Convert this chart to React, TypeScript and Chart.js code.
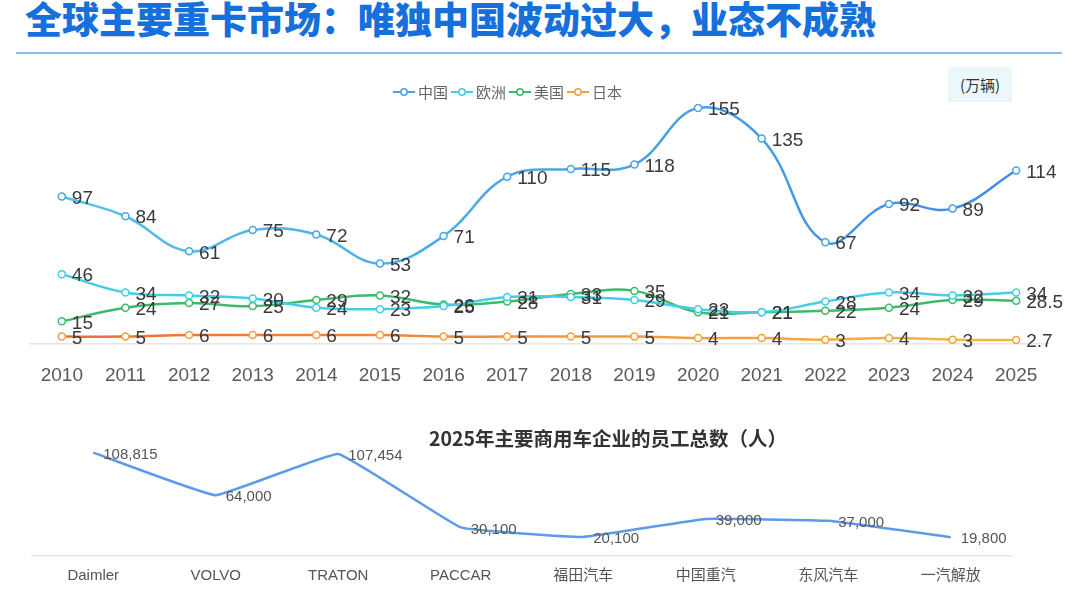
import { useEffect, useRef } from 'react'
import Chart from 'chart.js/auto'

const years = ['2010', '2011', '2012', '2013', '2014', '2015', '2016', '2017', '2018', '2019', '2020', '2021', '2022', '2023', '2024', '2025']
const china = [97, 84, 61, 75, 72, 53, 71, 110, 115, 118, 155, 135, 67, 92, 89, 114]
const europe = [46, 34, 32, 30, 24, 23, 25, 31, 31, 29, 23, 21, 28, 34, 32, 34]
const usa = [15, 24, 27, 25, 29, 32, 26, 28, 33, 35, 21, 21, 22, 24, 29, 28.5]
const japan = [5, 5, 6, 6, 6, 6, 5, 5, 5, 5, 4, 4, 3, 4, 3, 2.7]

const companies = ['Daimler', 'VOLVO', 'TRATON', 'PACCAR', '福田汽车', '中国重汽', '东风汽车', '一汽解放']
const employees = [108815, 64000, 107454, 30100, 20100, 39000, 37000, 19800]

const FONT = '"Liberation Sans", Arial, "Noto Sans CJK SC", sans-serif'

const legendItems = [
  { name: '中国', color: '#4aa3e2' },
  { name: '欧洲', color: '#45cde6' },
  { name: '美国', color: '#3dba6b' },
  { name: '日本', color: '#f3a03c' },
]

// draws each value just right of its point
const valueLabels = (font: string, color: string, fmt: (v: number) => string) => ({
  id: 'valueLabels',
  afterDatasetsDraw(chart: any) {
    const ctx = chart.ctx
    ctx.save()
    ctx.font = font
    ctx.fillStyle = color
    ctx.textAlign = 'left'
    ctx.textBaseline = 'middle'
    chart.data.datasets.forEach((ds: any, i: number) => {
      chart.getDatasetMeta(i).data.forEach((pt: any, j: number) => {
        ctx.fillText(fmt(ds.data[j]), pt.x + 10, pt.y + 2)
      })
    })
    ctx.restore()
  },
})

const gradient = (from: string, to: string) => (c: any) => {
  const area = c.chart.chartArea
  if (!area) return from
  const g = c.chart.ctx.createLinearGradient(area.left, 0, area.right, 0)
  g.addColorStop(0, from)
  g.addColorStop(1, to)
  return g
}

const lineSet = (label: string, data: number[], color: any, pointColor: string) => ({
  label,
  data,
  borderColor: color,
  borderWidth: 2.5,
  tension: 0.4,
  pointRadius: 3.5,
  pointBorderWidth: 1.5,
  pointBorderColor: pointColor,
  pointBackgroundColor: '#ffffff',
})

const MarketChart = () => {
  const chartRef = useRef<any>(null)

  useEffect(() => {
    const chart = new Chart(chartRef.current.getContext('2d'), {
      type: 'line',
      data: {
        labels: years,
        datasets: [
          lineSet('中国', china, gradient('#55c4ea', '#3f8be0'), '#4aa3e2'),
          lineSet('欧洲', europe, '#45cde6', '#45cde6'),
          lineSet('美国', usa, '#3dba6b', '#3dba6b'),
          lineSet('日本', japan, gradient('#ee6a3a', '#f6bb42'), '#f3a03c'),
        ],
      },
      options: {
        animation: false,
        responsive: true,
        maintainAspectRatio: false,
        layout: { padding: { left: 30, right: 32, top: 10, bottom: 13 } },
        plugins: { legend: { display: false }, tooltip: { enabled: false } },
        scales: {
          x: {
            offset: true,
            grid: { display: false, drawTicks: false },
            border: { color: '#e4e6ea', width: 1.5 },
            ticks: { color: '#5a5a5a', padding: 20, font: { size: 19, family: FONT } },
          },
          y: { display: false, min: 0, max: 180 },
        },
      },
      plugins: [valueLabels(`19px ${FONT}`, '#3a3a3a', (v) => String(v))],
    })
    return () => chart.destroy()
  }, [])

  return (
    <div style={{ position: 'absolute', left: 0, top: 60, width: 1080, height: 360 }}>
      <canvas ref={chartRef}></canvas>
    </div>
  )
}

const StaffChart = () => {
  const chartRef = useRef<any>(null)

  useEffect(() => {
    const chart = new Chart(chartRef.current.getContext('2d'), {
      type: 'line',
      data: {
        labels: companies,
        datasets: [{
          label: '员工总数',
          data: employees,
          borderColor: '#5b9be8',
          borderWidth: 2.5,
          tension: 0.08,
          pointRadius: 0,
        }],
      },
      options: {
        animation: false,
        responsive: true,
        maintainAspectRatio: false,
        layout: { padding: { left: 32, right: 68, top: 12, bottom: 0 } },
        plugins: { legend: { display: false }, tooltip: { enabled: false } },
        scales: {
          x: {
            offset: true,
            grid: { display: false, drawTicks: false },
            border: { color: '#e4e6ea', width: 1.5 },
            ticks: { color: '#555555', padding: 11, font: { size: 15, family: FONT } },
          },
          y: { display: false, min: 0, max: 120000 },
        },
      },
      plugins: [valueLabels(`15px ${FONT}`, '#555555', (v) => v.toLocaleString('en-US'))],
    })
    return () => chart.destroy()
  }, [])

  return (
    <div style={{ position: 'absolute', left: 0, top: 430, width: 1080, height: 166 }}>
      <canvas ref={chartRef}></canvas>
    </div>
  )
}

const App = () => {
  return (
    <div style={{ position: 'relative', width: 1080, height: 596, background: '#ffffff', overflow: 'hidden', fontFamily: FONT }}>
      <style>{'body{margin:0}'}</style>
      <div style={{ position: 'absolute', left: 25, top: -9, fontFamily: '"Noto Sans CJK SC", sans-serif', fontWeight: 900, fontSize: 37, color: '#1670dc', whiteSpace: 'nowrap' }}>
        全球主要重卡市场：唯独中国波动过大，业态不成熟
      </div>
      <div style={{ position: 'absolute', left: 16, top: 52, width: 1046, height: 2, background: '#8dbaf0' }}></div>

      <MarketChart />

      <div style={{ position: 'absolute', left: 393, top: 81, display: 'flex', alignItems: 'center', fontFamily: '"Noto Sans CJK SC", sans-serif', fontSize: 15, color: '#666' }}>
        {legendItems.map((it) => (
          <div key={it.name} style={{ display: 'flex', alignItems: 'center', marginRight: 3 }}>
            <svg width="22" height="12">
              <line x1="0" y1="6" x2="22" y2="6" stroke={it.color} strokeWidth="2" />
              <circle cx="11" cy="6" r="3.2" fill="#fff" stroke={it.color} strokeWidth="1.5" />
            </svg>
            <span style={{ marginLeft: 3 }}>{it.name}</span>
          </div>
        ))}
      </div>
      <div style={{ position: 'absolute', left: 948, top: 67, width: 64, height: 35, background: '#eaf7fb', display: 'flex', alignItems: 'center', justifyContent: 'center', fontFamily: '"Noto Sans CJK SC", sans-serif', fontSize: 15, color: '#333' }}>
        (万辆)
      </div>

      <StaffChart />

      <div style={{ position: 'absolute', left: 0, top: 423, width: 1216, textAlign: 'center', fontFamily: '"Noto Sans CJK SC", sans-serif', fontWeight: 700, fontSize: 19.5, color: '#333' }}>
        2025年主要商用车企业的员工总数（人）
      </div>
    </div>
  )
}

export default App
